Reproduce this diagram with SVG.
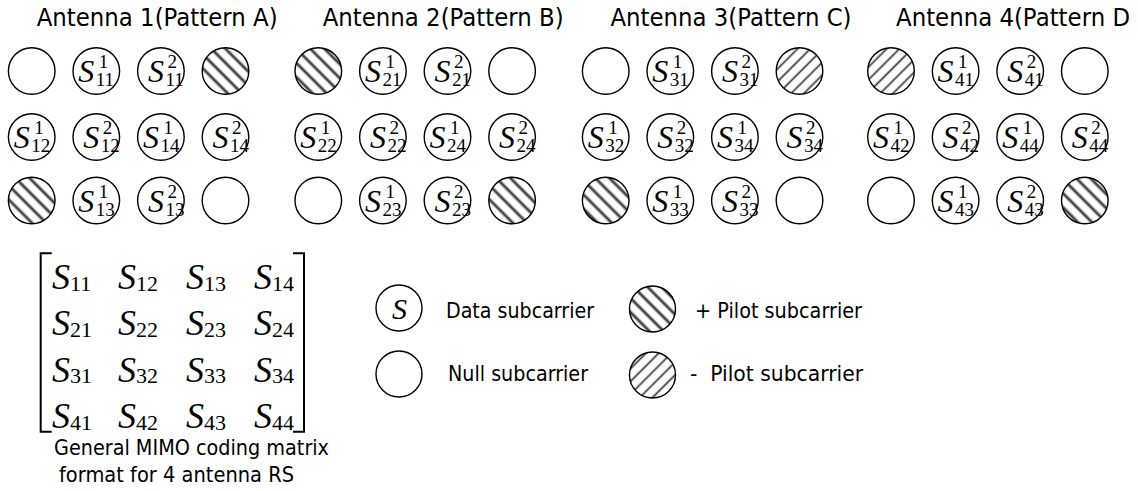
<svg xmlns="http://www.w3.org/2000/svg" width="1138" height="491" viewBox="0 0 1138 491">
<style>
.c{fill:#fff;stroke:#000;stroke-width:1.4}
.hp{fill:url(#hatchP);stroke:#000;stroke-width:1.4}
.hm{fill:url(#hatchM);stroke:#000;stroke-width:1.4}
.t{font-family:"DejaVu Sans","Liberation Sans",sans-serif;font-size:25.5px;fill:#000}
.l{font-family:"DejaVu Sans","Liberation Sans",sans-serif;font-size:22px;fill:#000}
.S{font-family:"Liberation Serif","Times New Roman",serif;font-style:italic;font-size:32px}
.d{font-family:"Liberation Serif","Times New Roman",serif;font-size:19px}
.MS{font-family:"Liberation Serif","Times New Roman",serif;font-style:italic;font-size:36px}
.md{font-family:"Liberation Serif","Times New Roman",serif;font-size:22px}
.br{fill:none;stroke:#000;stroke-width:2}
</style>
<defs>
<linearGradient id="gP" x1="0" x2="1" y1="0" y2="0">
<stop offset="0" stop-color="#fff"/><stop offset="0.24" stop-color="#fff"/><stop offset="0.38" stop-color="#999"/><stop offset="0.5" stop-color="#0a0a0a"/><stop offset="0.62" stop-color="#999"/><stop offset="0.76" stop-color="#fff"/><stop offset="1" stop-color="#fff"/>
</linearGradient>
<linearGradient id="gM" x1="0" x2="1" y1="0" y2="0">
<stop offset="0" stop-color="#fff"/><stop offset="0.3" stop-color="#fff"/><stop offset="0.41" stop-color="#aaa"/><stop offset="0.5" stop-color="#333"/><stop offset="0.59" stop-color="#aaa"/><stop offset="0.7" stop-color="#fff"/><stop offset="1" stop-color="#fff"/>
</linearGradient>
<pattern id="hatchP" patternUnits="userSpaceOnUse" width="10" height="10" patternTransform="rotate(-45)"><rect width="10" height="10" fill="url(#gP)"/></pattern>
<pattern id="hatchM" patternUnits="userSpaceOnUse" width="9" height="9" patternTransform="rotate(45)"><rect width="9" height="9" fill="url(#gM)"/></pattern>
</defs>
<rect width="1138" height="491" fill="#fff"/>

<g id="titles">
<text class="t" x="36.7" y="26" textLength="241" lengthAdjust="spacingAndGlyphs">Antenna 1(Pattern A)</text>
<text class="t" x="322.7" y="26" textLength="241" lengthAdjust="spacingAndGlyphs">Antenna 2(Pattern B)</text>
<text class="t" x="610.5" y="26" textLength="241" lengthAdjust="spacingAndGlyphs">Antenna 3(Pattern C)</text>
<text class="t" x="896" y="26" textLength="234" lengthAdjust="spacingAndGlyphs">Antenna 4(Pattern D</text>
</g>

<g id="connectors"/>

<!-- Antenna 1 -->
<g id="a1-r1c1"><circle class="c" cx="31.7" cy="71" r="23.3"/></g>
<g id="a1-s11-1"><circle class="c" cx="96.3" cy="71" r="23.3"/><text><tspan class="S" x="78.3" y="82">S</tspan><tspan class="d" x="95.8" y="86">11</tspan><tspan class="d" x="98.8" y="68">1</tspan></text></g>
<g id="a1-s11-2"><circle class="c" cx="160.9" cy="71" r="23.3"/><text><tspan class="S" x="147.9" y="82">S</tspan><tspan class="d" x="165.4" y="86">11</tspan><tspan class="d" x="167.4" y="68">2</tspan></text></g>
<g id="a1-r1c4"><circle class="hp" cx="225.5" cy="71" r="23.3"/></g>
<g id="a1-s12-1"><circle class="c" cx="31.7" cy="137" r="23.3"/><text><tspan class="S" x="13.7" y="148">S</tspan><tspan class="d" x="31.2" y="152">12</tspan><tspan class="d" x="34.2" y="134">1</tspan></text></g>
<g id="a1-s12-2"><circle class="c" cx="96.3" cy="137" r="23.3"/><text><tspan class="S" x="83.3" y="148">S</tspan><tspan class="d" x="100.8" y="152">12</tspan><tspan class="d" x="102.8" y="134">2</tspan></text></g>
<g id="a1-s14-1"><circle class="c" cx="160.9" cy="137" r="23.3"/><text><tspan class="S" x="142.9" y="148">S</tspan><tspan class="d" x="160.4" y="152">14</tspan><tspan class="d" x="163.4" y="134">1</tspan></text></g>
<g id="a1-s14-2"><circle class="c" cx="225.5" cy="137" r="23.3"/><text><tspan class="S" x="212.5" y="148">S</tspan><tspan class="d" x="230" y="152">14</tspan><tspan class="d" x="232" y="134">2</tspan></text></g>
<g id="a1-r3c1"><circle class="hp" cx="31.7" cy="200.5" r="23.3"/></g>
<g id="a1-s13-1"><circle class="c" cx="96.3" cy="200.5" r="23.3"/><text><tspan class="S" x="78.3" y="211.5">S</tspan><tspan class="d" x="95.8" y="215.5">13</tspan><tspan class="d" x="98.8" y="197.5">1</tspan></text></g>
<g id="a1-s13-2"><circle class="c" cx="160.9" cy="200.5" r="23.3"/><text><tspan class="S" x="147.9" y="211.5">S</tspan><tspan class="d" x="165.4" y="215.5">13</tspan><tspan class="d" x="167.4" y="197.5">2</tspan></text></g>
<g id="a1-r3c4"><circle class="c" cx="225.5" cy="200.5" r="23.3"/></g>

<!-- Antenna 2 -->
<g id="a2-r1c1"><circle class="hp" cx="318.3" cy="71" r="23.3"/></g>
<g id="a2-s21-1"><circle class="c" cx="382.9" cy="71" r="23.3"/><text><tspan class="S" x="364.9" y="82">S</tspan><tspan class="d" x="382.4" y="86">21</tspan><tspan class="d" x="385.4" y="68">1</tspan></text></g>
<g id="a2-s21-2"><circle class="c" cx="447.5" cy="71" r="23.3"/><text><tspan class="S" x="434.5" y="82">S</tspan><tspan class="d" x="452" y="86">21</tspan><tspan class="d" x="454" y="68">2</tspan></text></g>
<g id="a2-r1c4"><circle class="c" cx="512.1" cy="71" r="23.3"/></g>
<g id="a2-s22-1"><circle class="c" cx="318.3" cy="137" r="23.3"/><text><tspan class="S" x="300.3" y="148">S</tspan><tspan class="d" x="317.8" y="152">22</tspan><tspan class="d" x="320.8" y="134">1</tspan></text></g>
<g id="a2-s22-2"><circle class="c" cx="382.9" cy="137" r="23.3"/><text><tspan class="S" x="369.9" y="148">S</tspan><tspan class="d" x="387.4" y="152">22</tspan><tspan class="d" x="389.4" y="134">2</tspan></text></g>
<g id="a2-s24-1"><circle class="c" cx="447.5" cy="137" r="23.3"/><text><tspan class="S" x="429.5" y="148">S</tspan><tspan class="d" x="447" y="152">24</tspan><tspan class="d" x="450" y="134">1</tspan></text></g>
<g id="a2-s24-2"><circle class="c" cx="512.1" cy="137" r="23.3"/><text><tspan class="S" x="499.1" y="148">S</tspan><tspan class="d" x="516.6" y="152">24</tspan><tspan class="d" x="518.6" y="134">2</tspan></text></g>
<g id="a2-r3c1"><circle class="c" cx="318.3" cy="200.5" r="23.3"/></g>
<g id="a2-s23-1"><circle class="c" cx="382.9" cy="200.5" r="23.3"/><text><tspan class="S" x="364.9" y="211.5">S</tspan><tspan class="d" x="382.4" y="215.5">23</tspan><tspan class="d" x="385.4" y="197.5">1</tspan></text></g>
<g id="a2-s23-2"><circle class="c" cx="447.5" cy="200.5" r="23.3"/><text><tspan class="S" x="434.5" y="211.5">S</tspan><tspan class="d" x="452" y="215.5">23</tspan><tspan class="d" x="454" y="197.5">2</tspan></text></g>
<g id="a2-r3c4"><circle class="hp" cx="512.1" cy="200.5" r="23.3"/></g>

<!-- Antenna 3 -->
<g id="a3-r1c1"><circle class="c" cx="605.7" cy="71" r="23.3"/></g>
<g id="a3-s31-1"><circle class="c" cx="670.3" cy="71" r="23.3"/><text><tspan class="S" x="652.3" y="82">S</tspan><tspan class="d" x="669.8" y="86">31</tspan><tspan class="d" x="672.8" y="68">1</tspan></text></g>
<g id="a3-s31-2"><circle class="c" cx="734.9" cy="71" r="23.3"/><text><tspan class="S" x="721.9" y="82">S</tspan><tspan class="d" x="739.4" y="86">31</tspan><tspan class="d" x="741.4" y="68">2</tspan></text></g>
<g id="a3-r1c4"><circle class="hm" cx="799.5" cy="71" r="23.3"/></g>
<g id="a3-s32-1"><circle class="c" cx="605.7" cy="137" r="23.3"/><text><tspan class="S" x="587.7" y="148">S</tspan><tspan class="d" x="605.2" y="152">32</tspan><tspan class="d" x="608.2" y="134">1</tspan></text></g>
<g id="a3-s32-2"><circle class="c" cx="670.3" cy="137" r="23.3"/><text><tspan class="S" x="657.3" y="148">S</tspan><tspan class="d" x="674.8" y="152">32</tspan><tspan class="d" x="676.8" y="134">2</tspan></text></g>
<g id="a3-s34-1"><circle class="c" cx="734.9" cy="137" r="23.3"/><text><tspan class="S" x="716.9" y="148">S</tspan><tspan class="d" x="734.4" y="152">34</tspan><tspan class="d" x="737.4" y="134">1</tspan></text></g>
<g id="a3-s34-2"><circle class="c" cx="799.5" cy="137" r="23.3"/><text><tspan class="S" x="786.5" y="148">S</tspan><tspan class="d" x="804" y="152">34</tspan><tspan class="d" x="806" y="134">2</tspan></text></g>
<g id="a3-r3c1"><circle class="hp" cx="605.7" cy="200.5" r="23.3"/></g>
<g id="a3-s33-1"><circle class="c" cx="670.3" cy="200.5" r="23.3"/><text><tspan class="S" x="652.3" y="211.5">S</tspan><tspan class="d" x="669.8" y="215.5">33</tspan><tspan class="d" x="672.8" y="197.5">1</tspan></text></g>
<g id="a3-s33-2"><circle class="c" cx="734.9" cy="200.5" r="23.3"/><text><tspan class="S" x="721.9" y="211.5">S</tspan><tspan class="d" x="739.4" y="215.5">33</tspan><tspan class="d" x="741.4" y="197.5">2</tspan></text></g>
<g id="a3-r3c4"><circle class="c" cx="799.5" cy="200.5" r="23.3"/></g>

<!-- Antenna 4 -->
<g id="a4-r1c1"><circle class="hm" cx="891" cy="71" r="23.3"/></g>
<g id="a4-s41-1"><circle class="c" cx="955.6" cy="71" r="23.3"/><text><tspan class="S" x="937.6" y="82">S</tspan><tspan class="d" x="955.1" y="86">41</tspan><tspan class="d" x="958.1" y="68">1</tspan></text></g>
<g id="a4-s41-2"><circle class="c" cx="1020.2" cy="71" r="23.3"/><text><tspan class="S" x="1007.2" y="82">S</tspan><tspan class="d" x="1024.7" y="86">41</tspan><tspan class="d" x="1026.7" y="68">2</tspan></text></g>
<g id="a4-r1c4"><circle class="c" cx="1084.8" cy="71" r="23.3"/></g>
<g id="a4-s42-1"><circle class="c" cx="891" cy="137" r="23.3"/><text><tspan class="S" x="873" y="148">S</tspan><tspan class="d" x="890.5" y="152">42</tspan><tspan class="d" x="893.5" y="134">1</tspan></text></g>
<g id="a4-s42-2"><circle class="c" cx="955.6" cy="137" r="23.3"/><text><tspan class="S" x="942.6" y="148">S</tspan><tspan class="d" x="960.1" y="152">42</tspan><tspan class="d" x="962.1" y="134">2</tspan></text></g>
<g id="a4-s44-1"><circle class="c" cx="1020.2" cy="137" r="23.3"/><text><tspan class="S" x="1002.2" y="148">S</tspan><tspan class="d" x="1019.7" y="152">44</tspan><tspan class="d" x="1022.7" y="134">1</tspan></text></g>
<g id="a4-s44-2"><circle class="c" cx="1084.8" cy="137" r="23.3"/><text><tspan class="S" x="1071.8" y="148">S</tspan><tspan class="d" x="1089.3" y="152">44</tspan><tspan class="d" x="1091.3" y="134">2</tspan></text></g>
<g id="a4-r3c1"><circle class="c" cx="891" cy="200.5" r="23.3"/></g>
<g id="a4-s43-1"><circle class="c" cx="955.6" cy="200.5" r="23.3"/><text><tspan class="S" x="937.6" y="211.5">S</tspan><tspan class="d" x="955.1" y="215.5">43</tspan><tspan class="d" x="958.1" y="197.5">1</tspan></text></g>
<g id="a4-s43-2"><circle class="c" cx="1020.2" cy="200.5" r="23.3"/><text><tspan class="S" x="1007.2" y="211.5">S</tspan><tspan class="d" x="1024.7" y="215.5">43</tspan><tspan class="d" x="1026.7" y="197.5">2</tspan></text></g>
<g id="a4-r3c4"><circle class="hp" cx="1084.8" cy="200.5" r="23.3"/></g>

<!-- Matrix -->
<g id="matrix">
<path class="br" d="M51.7 253.3H40.7V431.7H51.7"/>
<path class="br" d="M293 253.3H304V431.7H293"/>
<text><tspan class="MS" x="52" y="289">S</tspan><tspan class="md" x="70" y="290.5">11</tspan></text>
<text><tspan class="MS" x="118" y="289">S</tspan><tspan class="md" x="136" y="290.5">12</tspan></text>
<text><tspan class="MS" x="186" y="289">S</tspan><tspan class="md" x="204" y="290.5">13</tspan></text>
<text><tspan class="MS" x="254" y="289">S</tspan><tspan class="md" x="272" y="290.5">14</tspan></text>
<text><tspan class="MS" x="52" y="335">S</tspan><tspan class="md" x="70" y="336.5">21</tspan></text>
<text><tspan class="MS" x="118" y="335">S</tspan><tspan class="md" x="136" y="336.5">22</tspan></text>
<text><tspan class="MS" x="186" y="335">S</tspan><tspan class="md" x="204" y="336.5">23</tspan></text>
<text><tspan class="MS" x="254" y="335">S</tspan><tspan class="md" x="272" y="336.5">24</tspan></text>
<text><tspan class="MS" x="52" y="381.5">S</tspan><tspan class="md" x="70" y="383">31</tspan></text>
<text><tspan class="MS" x="118" y="381.5">S</tspan><tspan class="md" x="136" y="383">32</tspan></text>
<text><tspan class="MS" x="186" y="381.5">S</tspan><tspan class="md" x="204" y="383">33</tspan></text>
<text><tspan class="MS" x="254" y="381.5">S</tspan><tspan class="md" x="272" y="383">34</tspan></text>
<text><tspan class="MS" x="52" y="428">S</tspan><tspan class="md" x="70" y="429.5">41</tspan></text>
<text><tspan class="MS" x="118" y="428">S</tspan><tspan class="md" x="136" y="429.5">42</tspan></text>
<text><tspan class="MS" x="186" y="428">S</tspan><tspan class="md" x="204" y="429.5">43</tspan></text>
<text><tspan class="MS" x="254" y="428">S</tspan><tspan class="md" x="272" y="429.5">44</tspan></text>
</g>
<g id="caption">
<text class="l" x="54" y="455" textLength="275" lengthAdjust="spacingAndGlyphs">General MIMO coding matrix</text>
<text class="l" x="59" y="481.5" textLength="235" lengthAdjust="spacingAndGlyphs">format for 4 antenna RS</text>
</g>

<!-- Legend -->
<g id="legend-data"><circle class="c" cx="399" cy="308" r="23"/><text class="S" x="392" y="318.5" style="font-size:30px">S</text><text class="l" x="446" y="318" textLength="148" lengthAdjust="spacingAndGlyphs">Data subcarrier</text></g>
<g id="legend-null"><circle class="c" cx="399" cy="374" r="23"/><text class="l" x="448" y="381" textLength="140" lengthAdjust="spacingAndGlyphs">Null subcarrier</text></g>
<g id="legend-pplus"><circle class="hp" cx="652.5" cy="309" r="23"/><text class="l" x="695" y="318" textLength="167" lengthAdjust="spacingAndGlyphs">+ Pilot subcarrier</text></g>
<g id="legend-pminus"><circle class="hm" cx="652.5" cy="375" r="23"/><text class="l" x="690" y="381" textLength="173" lengthAdjust="spacingAndGlyphs" xml:space="preserve">-  Pilot subcarrier</text></g>
</svg>
